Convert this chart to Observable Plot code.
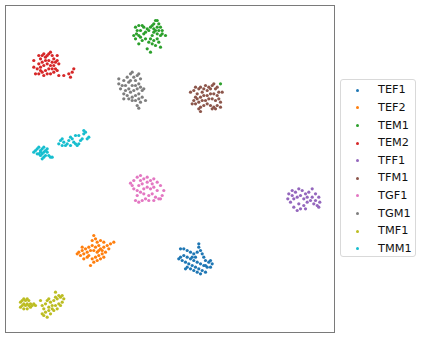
<!DOCTYPE html>
<html>
<head>
<meta charset="utf-8">
<script src="https://cdn.jsdelivr.net/npm/d3@7"></script>
<script src="https://cdn.jsdelivr.net/npm/@observablehq/plot@0.6"></script>
<style>
  html, body { margin: 0; padding: 0; background: #fff; }
  #wrap { position: relative; width: 423px; height: 338px; font-family: "DejaVu Sans", sans-serif; }
  #legend { position: absolute; left: 340px; top: 79px; width: 76px; height: 178px; border: 1px solid #d9d9d9; border-radius: 3px; box-sizing: border-box; background: #fff; }
  .row { position: absolute; left: 0; height: 14px; line-height: 14px; font-size: 11.3px; color: #111; }
  .row .dot { position: absolute; left: 15px; top: 5.5px; width: 3px; height: 3px; border-radius: 50%; }
  .row .lab { position: absolute; left: 37px; top: 0; white-space: nowrap; }
</style>
</head>
<body>
<div id="wrap"></div>
<script>
const classes = ["TEF1","TEF2","TEM1","TEM2","TFF1","TFM1","TGF1","TGM1","TMF1","TMM1"];
const colors = ["#1f77b4","#ff7f0e","#2ca02c","#d62728","#9467bd","#8c564b","#e377c2","#7f7f7f","#bcbd22","#17becf"];

const TEF1 = [[180,248.3],[183.3,248.3],[186.7,250],[190,251.7],[193.3,253.3],[196.7,251.7],[198.3,243.3],[198.3,246.7],[200,250],[201.7,253.3],[203.3,256.7],[205,260],[208.3,261.7],[211.7,263.3],[210,266.7],[206.7,266.7],[203.3,265],[200,263.3],[196.7,261.7],[193.3,260],[190,258.3],[186.7,256.7],[183.3,255],[180,256.7],[178.3,258.3],[181.7,260],[185,261.7],[188.3,263.3],[191.7,265],[195,266.7],[198.3,268.3],[201.7,270],[205,271.7],[200,273.3],[196.7,271.7],[193.3,270],[190,268.3],[186.7,266.7],[185,268.3],[205,265],[210,260],[195,256.7],[191.7,256.7]];
const TEF2 = [[93.3,235],[95,238.3],[91.7,240],[96.7,241.7],[100,240],[103.3,241.7],[98.3,245],[95,246.7],[91.7,245],[88.3,246.7],[85,248.3],[81.7,250],[78.3,251.7],[76.7,253.3],[80,255],[83.3,253.3],[86.7,251.7],[90,250],[93.3,250],[96.7,251.7],[100,248.3],[103.3,246.7],[106.7,245],[110,243.3],[113.3,241.7],[108.3,248.3],[105,251.7],[101.7,253.3],[98.3,255],[95,256.7],[91.7,258.3],[93.3,261.7],[96.7,260],[100,258.3],[103.3,256.7],[83.3,258.3],[86.7,256.7],[88.3,255],[90,265],[81.7,246.7],[101.7,250],[98.3,250]];
const TEM1 = [[135,26.7],[138.3,25],[141.7,25],[143.3,26.7],[136.7,30],[140,30],[133.3,35],[136,33.3],[138.3,35],[140,36.7],[143.3,33.3],[145,31.7],[146.7,28.3],[148.3,30],[150,26.7],[151.7,25],[153.3,23.3],[155,20],[156.7,20],[158.3,23.3],[156.7,26.7],[160,26.7],[161.7,30],[165,35],[160,35],[156.7,33.3],[153.3,31.7],[151.7,35],[150,38.3],[148.3,41.7],[153.3,40],[156.7,38.3],[158.3,41.7],[155,45],[151.7,43.3],[146.7,48.3],[150,51.7],[160,46.7],[138.3,43.3],[141.7,40],[145,38.3],[153.3,28.3],[155,30],[135,38.3],[158.3,30],[161.7,33.3],[220,83.3]];
const TEM2 = [[33.3,60],[33.3,66.7],[35,73.3],[38.3,55],[40,58.3],[41.7,55],[43.3,53.3],[45,56.7],[46.7,55],[48.3,53.3],[50,51.7],[51.7,55],[53.3,58.3],[56.7,55],[55,61.7],[51.7,61.7],[48.3,60],[45,60],[41.7,61.7],[38.3,63.3],[40,66.7],[43.3,65],[46.7,63.3],[50,65],[53.3,65],[56.7,60],[58.3,63.3],[55,68.3],[51.7,68.3],[48.3,68.3],[45,70],[41.7,71.7],[38.3,73.3],[40,70],[43.3,75],[46.7,73.3],[50,73.3],[53.3,71.7],[56.7,70],[58.3,75],[63.3,75],[68.3,73.3],[70,76.7],[71.7,71.7],[73.3,68.3],[36.7,68.3]];
const TFF1 = [[287.3,198.3],[288.3,193.3],[291.7,190],[295,191.7],[298.3,188.3],[301.7,190],[305,193.3],[308.3,191.7],[311.7,188.3],[315,193.3],[318.3,196.7],[319.3,201.7],[316.7,205],[313.3,203.3],[310,200],[306.7,201.7],[303.3,205],[300,208.3],[296.7,210],[293.3,206.7],[290,201.7],[293.3,198.3],[296.7,196.7],[300,195],[303.3,198.3],[306.7,196.7],[311.7,196.7],[315,200],[318.3,206.7],[305,208.3],[298.3,203.3],[291.7,195]];
const TFM1 = [[190,91.7],[193.3,90],[195,86.7],[198.3,88.3],[196.7,93.3],[200,86.7],[201.7,91.7],[203.3,88.3],[205,85],[206.7,90],[208.3,86.7],[210,88.3],[211.7,85],[213.3,83.3],[215,88.3],[216.7,86.7],[218.3,91.7],[221.7,91.7],[216.7,95],[213.3,93.3],[210,93.3],[206.7,95],[203.3,95],[200,96.7],[196.7,98.3],[193.3,100],[191.7,103.3],[195,103.3],[198.3,101.7],[201.7,100],[205,100],[208.3,98.3],[211.7,98.3],[215,100],[218.3,98.3],[220,101.7],[216.7,105],[213.3,106.7],[210,105],[206.7,103.3],[203.3,105],[200,106.7],[198.3,108.3],[200,111],[211.7,108.3],[215,108.3],[220,106.7],[195,96.7]];
const TGF1 = [[130,182.7],[133.3,180],[136.7,176.7],[140,175],[143.3,178.3],[146.7,176.7],[150,180],[153.3,178.3],[156.7,181.7],[160,185],[163.3,190],[161.7,195],[158.3,198.3],[155,196.7],[151.7,193.3],[148.3,195],[145,198.3],[141.7,200],[138.3,201.7],[135,200],[136.7,195],[140,191.7],[143.3,188.3],[146.7,186.7],[150,188.3],[153.3,186.7],[156.7,190],[151.7,183.3],[146.7,181.7],[141.7,183.3],[138.3,185],[133.3,188.3],[136.7,190],[143.3,193.3],[148.3,200],[153.3,200],[160,198.3],[131.7,185],[140,180]];
const TGM1 = [[118.3,78.3],[118.3,83.3],[120,88.3],[123.3,80],[125,85],[126.7,76.7],[128.3,81.7],[130,73.3],[131.7,71.7],[133.3,76.7],[135,80],[136.7,75],[138.3,73.3],[140,78.3],[138.3,83.3],[135,85],[131.7,85],[128.3,88.3],[125,90],[123.3,93.3],[126.7,95],[130,91.7],[133.3,90],[136.7,88.3],[140,86.7],[141.7,90],[143.3,88.3],[138.3,93.3],[135,95],[131.7,96.7],[128.3,98.3],[131.7,100],[135,100],[138.3,98.3],[141.7,96.7],[140,101.7],[136.7,105],[138.3,107.7],[145,100],[123.3,98.3],[130,80],[121.7,85]];
const TMF1 = [[20,301.7],[21.7,300],[23.3,298.3],[25,300],[26.7,298.3],[28.3,300],[23.3,303.3],[21.7,305],[20,306.7],[23.3,308.3],[25,305],[26.7,303.3],[28.3,305],[30,303.3],[31.7,305],[33.3,303.3],[35,305],[30,306.7],[26.7,308.3],[40,300],[41.7,305],[43.3,308.3],[45,303.3],[46.7,300],[48.3,298.3],[50,301.7],[51.7,305],[53.3,300],[55,296.7],[56.7,298.3],[58.3,295],[60,296.7],[61.7,295],[63.3,298.3],[61.7,301.7],[58.3,303.3],[55,305],[51.7,308.3],[48.3,310],[45,311.7],[43.3,315],[46.7,316.7],[50,313.3],[53.3,310],[56.7,308.3],[60,305],[55,291.7],[48.3,306.7],[41.7,313.3]];
const TMM1 = [[33.3,151.7],[35,150],[36.7,148.3],[38.3,146.7],[40,150],[41.7,148.3],[43.3,146.7],[38.3,153.3],[40,155],[41.7,153.3],[43.3,151.7],[45,150],[46.7,151.7],[45,155],[43.3,156.7],[41.7,158.3],[48.3,155],[50,156.7],[51.7,156.7],[36.7,153.3],[40,151.7],[46.7,148.3],[58.3,143.3],[60,140],[61.7,138.3],[63.3,141.7],[65,145],[66.7,143.3],[68.3,140],[70,136.7],[71.7,138.3],[73.3,141.7],[75,143.3],[76.7,145],[78.3,143.3],[80,140],[81.7,138.3],[83.3,133.3],[85,131.7],[83.3,130],[86.7,138.3],[88.3,136.7],[75,135],[78.3,135],[61.7,145],[70,145]];

const series = {TEF1, TEF2, TEM1, TEM2, TFF1, TFM1, TGF1, TGM1, TMF1, TMM1};
const rows = [];
for (const c of classes) for (const [x, y] of series[c]) rows.push({x, y, c});

const chart = Plot.plot({
  width: 423,
  height: 338,
  marginLeft: 5,
  marginRight: 89,
  marginTop: 5,
  marginBottom: 6,
  x: {domain: [5, 334], axis: null},
  y: {domain: [332, 5], axis: null},
  color: {domain: classes, range: colors},
  marks: [
    Plot.dot(rows, {x: "x", y: "y", fill: "c", r: 1.6, stroke: null}),
    Plot.frame({stroke: "#7a7a7a", strokeWidth: 1})
  ]
});
chart.style.position = "absolute";
chart.style.left = "0px";
chart.style.top = "0px";
const wrap = document.getElementById("wrap");
wrap.appendChild(chart);

const legend = document.createElement("div");
legend.id = "legend";
classes.forEach((c, i) => {
  const row = document.createElement("div");
  row.className = "row";
  row.style.top = (3.3 + i * 17.6) + "px";
  const dot = document.createElement("span");
  dot.className = "dot";
  dot.style.background = colors[i];
  const lab = document.createElement("span");
  lab.className = "lab";
  lab.textContent = c;
  row.appendChild(dot);
  row.appendChild(lab);
  legend.appendChild(row);
});
wrap.appendChild(legend);
</script>
</body>
</html>
